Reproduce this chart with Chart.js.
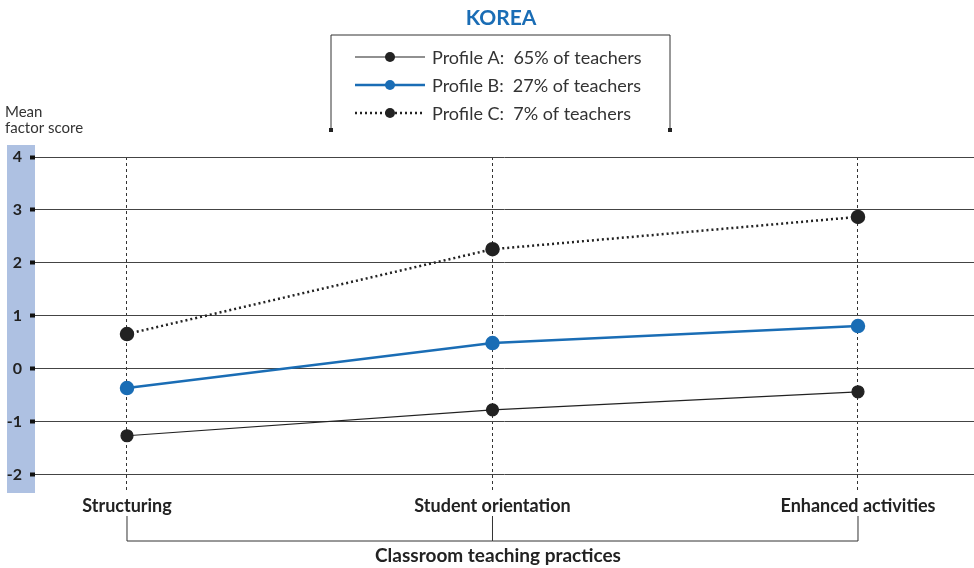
<!DOCTYPE html>
<html lang="en">
<head>
<meta charset="UTF-8">
<title>Korea - teacher profiles</title>
<script src="https://cdn.jsdelivr.net/npm/chart.js"></script>
<style>
    html, body { margin: 0; padding: 0; background: #fff; overflow: hidden; }
    #wrap { width: 974px; height: 568px; position: relative; }
    canvas { display: block; }
</style>
</head>
<body>
<div id="wrap"><canvas id="chart"></canvas></div>
<script>
    // data
    const categories = ['Structuring', 'Student orientation', 'Enhanced activities'];
    const profileA = [-1.26, -0.77, -0.43];
    const profileB = [-0.36, 0.49, 0.81];
    const profileC = [0.66, 2.26, 2.87];
    const seriesLabels = ['Profile A:  65% of teachers', 'Profile B:  27% of teachers', 'Profile C:  7% of teachers'];
    const yTicks = [-2, -1, 0, 1, 2, 3, 4];

    const FONT = 'Lato, "Open Sans", sans-serif';
    const BLUE = '#1a6db5';

    function pts(arr) {
        return arr.map((v, i) => ({ x: i, y: v }));
    }

    const decor = {
        id: 'decor',
        beforeDraw(chart) {
            const ctx = chart.ctx;
            const a = chart.chartArea;
            ctx.save();
            ctx.fillStyle = '#aec1e2';
            ctx.fillRect(7, a.top - 12, a.left - 7, a.bottom - a.top + 12);
            ctx.restore();
        },
        afterDraw(chart) {
            const ctx = chart.ctx;
            const xs = chart.scales.x;
            ctx.save();

            // title
            ctx.fillStyle = BLUE;
            ctx.font = 'bold 21px ' + FONT;
            ctx.textAlign = 'center';
            ctx.textBaseline = 'middle';
            ctx.fillText('KOREA', 501, 18);

            // legend box
            ctx.strokeStyle = '#333';
            ctx.lineWidth = 1;
            ctx.beginPath();
            ctx.moveTo(331, 130); ctx.lineTo(331, 35); ctx.lineTo(670, 35); ctx.lineTo(670, 130);
            ctx.stroke();
            ctx.fillStyle = '#222';
            ctx.fillRect(329, 128, 4, 4);
            ctx.fillRect(668, 128, 4, 4);

            chart.data.datasets.forEach((ds, i) => {
                const y = 57 + i * 28;
                ctx.strokeStyle = ds.borderColor;
                ctx.lineWidth = ds.borderWidth;
                ctx.setLineDash(ds.borderDash || []);
                ctx.beginPath();
                ctx.moveTo(355, y); ctx.lineTo(425, y);
                ctx.stroke();
                ctx.setLineDash([]);
                ctx.fillStyle = ds.pointBackgroundColor;
                ctx.beginPath();
                ctx.arc(390, y, 5, 0, Math.PI * 2);
                ctx.fill();
                ctx.fillStyle = '#333';
                ctx.font = '18px ' + FONT;
                ctx.textAlign = 'left';
                ctx.fillText(ds.label, 432, y + 1);
            });

            // y axis caption
            ctx.fillStyle = '#333';
            ctx.font = '15px ' + FONT;
            ctx.textAlign = 'left';
            ctx.fillText('Mean', 5, 112);
            ctx.fillText('factor score', 5, 128);

            // bracket under categories
            const x0 = xs.getPixelForValue(0);
            const x1 = xs.getPixelForValue(1);
            const x2 = xs.getPixelForValue(2);
            ctx.strokeStyle = '#333';
            ctx.lineWidth = 1;
            ctx.beginPath();
            [x0, x1, x2].forEach(x => { ctx.moveTo(x, 516); ctx.lineTo(x, 541); });
            ctx.moveTo(x0, 541); ctx.lineTo(x2, 541);
            ctx.stroke();

            ctx.fillStyle = '#222';
            ctx.font = 'bold 19px ' + FONT;
            ctx.textAlign = 'center';
            ctx.fillText('Classroom teaching practices', 498, 556);
            ctx.restore();
        }
    };

    new Chart(document.getElementById('chart'), {
        type: 'line',
        data: {
            datasets: [
                {
                    label: seriesLabels[0],
                    data: pts(profileA),
                    borderColor: '#222',
                    borderWidth: 1.2,
                    pointBackgroundColor: '#222',
                    pointBorderColor: '#222',
                    pointRadius: 6
                },
                {
                    label: seriesLabels[1],
                    data: pts(profileB),
                    borderColor: BLUE,
                    borderWidth: 2.5,
                    pointBackgroundColor: BLUE,
                    pointBorderColor: BLUE,
                    pointRadius: 6
                },
                {
                    label: seriesLabels[2],
                    data: pts(profileC),
                    borderColor: '#222',
                    borderWidth: 2.5,
                    borderDash: [2, 3],
                    pointBackgroundColor: '#222',
                    pointBorderColor: '#222',
                    pointRadius: 6
                }
            ]
        },
        options: {
            responsive: true,
            maintainAspectRatio: false,
            animation: false,
            layout: { autoPadding: false, padding: { top: 157, left: 0, right: 0, bottom: 0 } },
            plugins: {
                legend: { display: false },
                tooltip: { enabled: false }
            },
            scales: {
                x: {
                    type: 'linear',
                    min: -0.2517,
                    max: 2.3174,
                    afterBuildTicks: s => { s.ticks = [0, 1, 2].map(v => ({ value: v })); },
                    afterFit: s => { s.height = 75; },
                    border: { display: false, dash: [3, 3] },
                    grid: {
                        color: '#333',
                        lineWidth: 1,
                        drawTicks: false
                    },
                    ticks: {
                        padding: 2,
                        color: '#222',
                        font: { family: FONT, size: 18, weight: 'bold' },
                        callback: v => categories[v]
                    }
                },
                y: {
                    min: -2.34,
                    max: 4,
                    afterBuildTicks: s => { s.ticks = yTicks.map(v => ({ value: v })); },
                    afterFit: s => { s.width = 35; },
                    border: { display: false },
                    grid: {
                        color: '#444',
                        lineWidth: 1,
                        tickColor: '#111',
                        tickLength: 5,
                        tickWidth: 4
                    },
                    ticks: {
                        padding: 8,
                        color: '#222',
                        font: { family: FONT, size: 16, weight: 'bold' }
                    }
                }
            }
        },
        plugins: [decor]
    });
</script>
</body>
</html>
